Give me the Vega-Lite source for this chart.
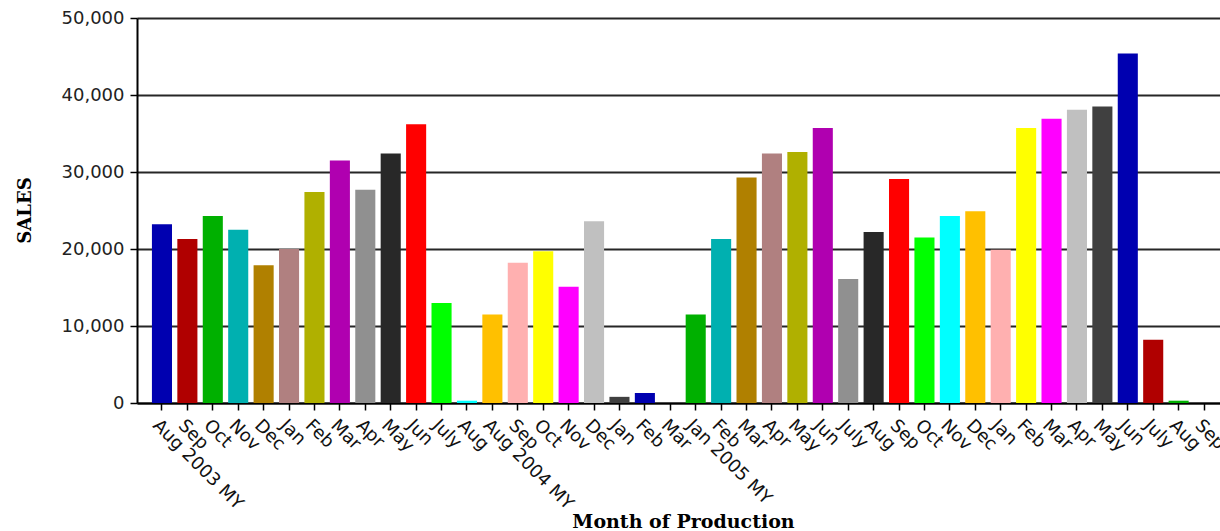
{
  "$schema": "https://vega.github.io/schema/vega-lite/v6.json",
  "width": 1083,
  "height": 385,
  "autosize": "none",
  "padding": {"left": 137, "top": 18, "right": 0, "bottom": 128},
  "background": "white",
  "config": {"view": {"stroke": null}},
  "data": {
    "values": [
      {"period": "Aug 2003 MY|2003 MY|2003-08", "sales": 23200},
      {"period": "Sep|2003 MY|2003-09", "sales": 21300},
      {"period": "Oct|2003 MY|2003-10", "sales": 24300},
      {"period": "Nov|2003 MY|2003-11", "sales": 22500},
      {"period": "Dec|2003 MY|2003-12", "sales": 17900},
      {"period": "Jan|2003 MY|2004-01", "sales": 20000},
      {"period": "Feb|2003 MY|2004-02", "sales": 27400},
      {"period": "Mar|2003 MY|2004-03", "sales": 31500},
      {"period": "Apr|2003 MY|2004-04", "sales": 27700},
      {"period": "May|2003 MY|2004-05", "sales": 32400},
      {"period": "Jun|2003 MY|2004-06", "sales": 36200},
      {"period": "July|2003 MY|2004-07", "sales": 13000},
      {"period": "Aug|2003 MY|2004-08", "sales": 300},
      {"period": "Aug 2004 MY|2004 MY|2004-08", "sales": 11500},
      {"period": "Sep|2004 MY|2004-09", "sales": 18200},
      {"period": "Oct|2004 MY|2004-10", "sales": 19700},
      {"period": "Nov|2004 MY|2004-11", "sales": 15100},
      {"period": "Dec|2004 MY|2004-12", "sales": 23600},
      {"period": "Jan|2004 MY|2005-01", "sales": 800},
      {"period": "Feb|2004 MY|2005-02", "sales": 1300},
      {"period": "Mar|2004 MY|2005-03", "sales": 0},
      {"period": "Jan 2005 MY|2005 MY|2005-01", "sales": 11500},
      {"period": "Feb|2005 MY|2005-02", "sales": 21300},
      {"period": "Mar|2005 MY|2005-03", "sales": 29300},
      {"period": "Apr|2005 MY|2005-04", "sales": 32400},
      {"period": "May|2005 MY|2005-05", "sales": 32600},
      {"period": "Jun|2005 MY|2005-06", "sales": 35700},
      {"period": "July|2005 MY|2005-07", "sales": 16100},
      {"period": "Aug|2005 MY|2005-08", "sales": 22200},
      {"period": "Sep|2005 MY|2005-09", "sales": 29100},
      {"period": "Oct|2005 MY|2005-10", "sales": 21500},
      {"period": "Nov|2005 MY|2005-11", "sales": 24300},
      {"period": "Dec|2005 MY|2005-12", "sales": 24900},
      {"period": "Jan|2005 MY|2006-01", "sales": 19900},
      {"period": "Feb|2005 MY|2006-02", "sales": 35700},
      {"period": "Mar|2005 MY|2006-03", "sales": 36900},
      {"period": "Apr|2005 MY|2006-04", "sales": 38100},
      {"period": "May|2005 MY|2006-05", "sales": 38500},
      {"period": "Jun|2005 MY|2006-06", "sales": 45400},
      {"period": "July|2005 MY|2006-07", "sales": 8200},
      {"period": "Aug|2005 MY|2006-08", "sales": 300},
      {"period": "Sep|2005 MY|2006-09", "sales": 0}
    ]
  },
  "mark": {"type": "bar"},
  "encoding": {
    "x": {
      "field": "period",
      "type": "nominal",
      "sort": null,
      "scale": {"paddingInner": 0.21, "paddingOuter": 0.41, "align": 0.716},
      "axis": {
        "title": "Month of Production",
        "labelExpr": "split(datum.value, '|')[0]",
        "labelAngle": 45,
        "labelAlign": "left",
        "labelBaseline": "top",
        "labelFont": "DejaVu Sans",
        "labelFontSize": 18,
        "labelColor": "#111111",
        "labelPadding": 6,
        "labelOverlap": false,
        "labelLimit": 300,
        "tickSize": 7,
        "tickColor": "#000000",
        "tickWidth": 1.5,
        "domainColor": "#000000",
        "domainWidth": 2,
        "titleFont": "DejaVu Serif",
        "titleFontSize": 19,
        "titleFontWeight": "bold",
        "titleColor": "#000000",
        "titleX": 546,
        "titleY": 124,
        "titleAlign": "center",
        "titleBaseline": "alphabetic"
      }
    },
    "y": {
      "field": "sales",
      "type": "quantitative",
      "scale": {"domain": [0, 50000]},
      "axis": {
        "title": "SALES",
        "values": [0, 10000, 20000, 30000, 40000, 50000],
        "format": ",d",
        "grid": true,
        "gridColor": "#000000",
        "gridWidth": 2,
        "gridOpacity": 0.85,
        "labelFont": "DejaVu Sans",
        "labelFontSize": 18,
        "labelColor": "#222222",
        "labelPadding": 6,
        "tickSize": 7,
        "tickColor": "#000000",
        "tickWidth": 1.5,
        "domainColor": "#000000",
        "domainWidth": 2,
        "titleFont": "DejaVu Serif",
        "titleFontSize": 18,
        "titleFontWeight": "bold",
        "titleColor": "#000000",
        "titleAngle": -90,
        "titleX": -107,
        "titleY": 192,
        "titleAlign": "center",
        "titleBaseline": "alphabetic"
      }
    },
    "color": {
      "field": "period",
      "type": "nominal",
      "sort": null,
      "legend": null,
      "scale": {
        "range": ["#0000b0", "#b00000", "#00b000", "#00b0b0", "#b08000", "#b08080", "#b0b000", "#b000b0", "#909090", "#282828", "#ff0000", "#00ff00", "#00ffff", "#ffc000", "#ffb0b0", "#ffff00", "#ff00ff", "#c0c0c0", "#404040"]
      }
    }
  }
}
